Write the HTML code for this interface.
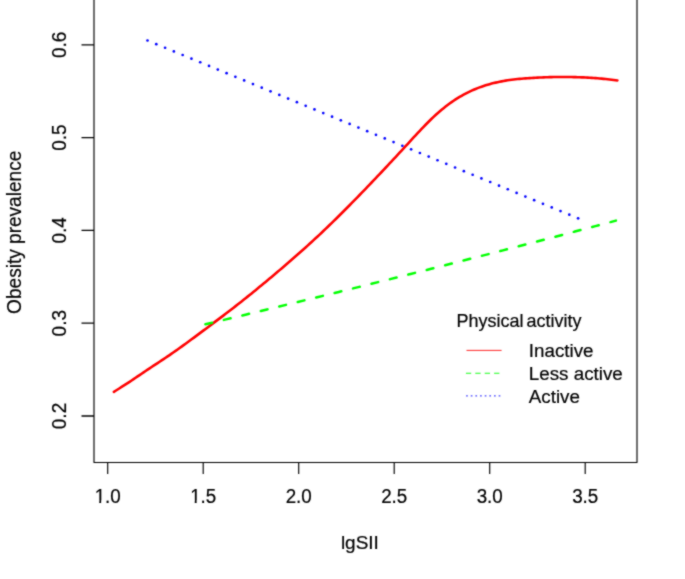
<!DOCTYPE html>
<html><head><meta charset="utf-8"><style>
html,body{margin:0;padding:0;background:#fff;width:685px;height:579px;overflow:hidden}
svg{display:block;will-change:transform;}
text{font-family:"Liberation Sans",sans-serif}
</style></head><body>
<svg width="685" height="579" viewBox="0 0 685 579">
<defs><filter id="s" x="0" y="0" width="685" height="579" filterUnits="userSpaceOnUse" color-interpolation-filters="sRGB"><feConvolveMatrix order="3" kernelMatrix="1 2 1 2 12 2 1 2 1" edgeMode="duplicate"/></filter></defs>
<g filter="url(#s)">
<rect width="685" height="579" fill="#fff"/>
<g fill="none" stroke="#000" stroke-width="1.15">
<path d="M94.0,0 V462.5 H637.0 V0" stroke-linejoin="round"/>
<path d="M107.70,462.5V474M203.20,462.5V474M298.70,462.5V474M394.20,462.5V474M489.70,462.5V474M585.20,462.5V474"/>
<path d="M94.0,416.00H81.5M94.0,323.20H81.5M94.0,230.40H81.5M94.0,137.60H81.5M94.0,44.80H81.5" stroke-width="1.3"/>
</g>
<path d="M113.90,391.80 L115.60,390.75 L117.60,389.50 L119.60,388.24 L121.60,386.97 L123.60,385.69 L125.60,384.41 L127.60,383.11 L129.60,381.80 L131.60,380.48 L133.60,379.14 L135.60,377.79 L137.60,376.43 L139.60,375.06 L141.60,373.70 L143.60,372.35 L145.60,371.00 L147.60,369.67 L149.60,368.34 L151.60,367.01 L153.60,365.69 L155.60,364.38 L157.60,363.06 L159.60,361.74 L161.60,360.41 L163.60,359.08 L165.60,357.75 L167.60,356.40 L169.60,355.05 L171.60,353.68 L173.60,352.30 L175.60,350.91 L177.60,349.49 L179.60,348.06 L181.60,346.62 L183.60,345.17 L185.60,343.71 L187.60,342.25 L189.60,340.78 L191.60,339.31 L193.60,337.84 L195.60,336.36 L197.60,334.88 L199.60,333.39 L201.60,331.91 L203.60,330.41 L205.60,328.92 L207.60,327.42 L209.60,325.92 L211.60,324.42 L213.60,322.91 L215.60,321.40 L217.60,319.89 L219.60,318.38 L221.60,316.86 L223.60,315.34 L225.60,313.81 L227.60,312.28 L229.60,310.75 L231.60,309.21 L233.60,307.66 L235.60,306.11 L237.60,304.55 L239.60,302.98 L241.60,301.40 L243.60,299.82 L245.60,298.22 L247.60,296.62 L249.60,295.01 L251.60,293.39 L253.60,291.77 L255.60,290.14 L257.60,288.50 L259.60,286.86 L261.60,285.21 L263.60,283.55 L265.60,281.89 L267.60,280.23 L269.60,278.55 L271.60,276.88 L273.60,275.19 L275.60,273.51 L277.60,271.81 L279.60,270.12 L281.60,268.42 L283.60,266.71 L285.60,265.00 L287.60,263.28 L289.60,261.56 L291.60,259.82 L293.60,258.08 L295.60,256.33 L297.60,254.57 L299.60,252.81 L301.60,251.03 L303.60,249.25 L305.60,247.45 L307.60,245.65 L309.60,243.83 L311.60,242.00 L313.60,240.16 L315.60,238.31 L317.60,236.45 L319.60,234.58 L321.60,232.70 L323.60,230.81 L325.60,228.90 L327.60,226.99 L329.60,225.06 L331.60,223.12 L333.60,221.17 L335.60,219.22 L337.60,217.25 L339.60,215.27 L341.60,213.27 L343.60,211.27 L345.60,209.26 L347.60,207.25 L349.60,205.22 L351.60,203.19 L353.60,201.15 L355.60,199.11 L357.60,197.06 L359.60,195.00 L361.60,192.93 L363.60,190.86 L365.60,188.79 L367.60,186.70 L369.60,184.62 L371.60,182.52 L373.60,180.43 L375.60,178.32 L377.60,176.21 L379.60,174.10 L381.60,171.99 L383.60,169.87 L385.60,167.74 L387.60,165.61 L389.60,163.47 L391.60,161.33 L393.60,159.18 L395.60,157.02 L397.60,154.87 L399.60,152.70 L401.60,150.54 L403.60,148.37 L405.60,146.19 L407.60,144.02 L409.60,141.84 L411.60,139.66 L413.60,137.49 L415.60,135.32 L417.60,133.17 L419.60,131.03 L421.60,128.91 L423.60,126.82 L425.60,124.76 L427.60,122.73 L429.60,120.74 L431.60,118.80 L433.60,116.91 L435.60,115.06 L437.60,113.26 L439.60,111.51 L441.60,109.81 L443.60,108.16 L445.60,106.56 L447.60,105.02 L449.60,103.53 L451.60,102.10 L453.60,100.72 L455.60,99.40 L457.60,98.14 L459.60,96.92 L461.60,95.76 L463.60,94.64 L465.60,93.58 L467.60,92.56 L469.60,91.59 L471.60,90.66 L473.60,89.78 L475.60,88.94 L477.60,88.14 L479.60,87.38 L481.60,86.66 L483.60,85.98 L485.60,85.33 L487.60,84.72 L489.60,84.15 L491.60,83.61 L493.60,83.10 L495.60,82.62 L497.60,82.17 L499.60,81.75 L501.60,81.36 L503.60,80.99 L505.60,80.65 L507.60,80.33 L509.60,80.04 L511.60,79.76 L513.60,79.51 L515.60,79.27 L517.60,79.06 L519.60,78.86 L521.60,78.68 L523.60,78.51 L525.60,78.35 L527.60,78.21 L529.60,78.08 L531.60,77.95 L533.60,77.84 L535.60,77.73 L537.60,77.63 L539.60,77.54 L541.60,77.45 L543.60,77.37 L545.60,77.30 L547.60,77.23 L549.60,77.17 L551.60,77.12 L553.60,77.07 L555.60,77.04 L557.60,77.01 L559.60,76.99 L561.60,76.98 L563.60,76.97 L565.60,76.98 L567.60,76.99 L569.60,77.01 L571.60,77.04 L573.60,77.08 L575.60,77.13 L577.60,77.19 L579.60,77.26 L581.60,77.33 L583.60,77.42 L585.60,77.52 L587.60,77.62 L589.60,77.74 L591.60,77.87 L593.60,78.01 L595.60,78.16 L597.60,78.31 L599.60,78.48 L601.60,78.66 L603.60,78.85 L605.60,79.05 L607.60,79.25 L609.60,79.47 L611.60,79.69 L613.60,79.93 L615.60,80.18 L617.40,80.42" fill="none" stroke="#f00" stroke-width="2.6" stroke-linecap="round" stroke-linejoin="round"/>
<path d="M205.40,324.26 L215.66,321.82 L225.93,319.37 L236.19,316.91 L246.45,314.45 L256.71,311.98 L266.98,309.50 L277.24,307.01 L287.50,304.52 L297.76,302.02 L308.02,299.51 L318.29,296.99 L328.55,294.46 L338.81,291.93 L349.08,289.39 L359.34,286.84 L369.60,284.28 L379.86,281.72 L390.12,279.15 L400.39,276.57 L410.65,273.98 L420.91,271.39 L431.18,268.79 L441.44,266.18 L451.70,263.56 L461.96,260.94 L472.23,258.30 L482.49,255.66 L492.75,253.01 L503.01,250.36 L513.27,247.70 L523.54,245.02 L533.80,242.35 L544.06,239.66 L554.33,236.97 L564.59,234.26 L574.85,231.56 L585.11,228.84 L595.38,226.11 L605.64,223.38 L615.90,220.64" fill="none" stroke="#0f0" stroke-width="2.5" stroke-linecap="round" stroke-dasharray="6.9 12.09"/>
<g fill="#00f"><circle cx="147.50" cy="40.50" r="1.35"/><circle cx="156.29" cy="44.13" r="1.35"/><circle cx="165.08" cy="47.76" r="1.35"/><circle cx="173.86" cy="51.39" r="1.35"/><circle cx="182.65" cy="55.01" r="1.35"/><circle cx="191.44" cy="58.64" r="1.35"/><circle cx="200.23" cy="62.27" r="1.35"/><circle cx="209.01" cy="65.90" r="1.35"/><circle cx="217.80" cy="69.53" r="1.35"/><circle cx="226.59" cy="73.16" r="1.35"/><circle cx="235.38" cy="76.79" r="1.35"/><circle cx="244.17" cy="80.41" r="1.35"/><circle cx="252.95" cy="84.04" r="1.35"/><circle cx="261.74" cy="87.67" r="1.35"/><circle cx="270.53" cy="91.30" r="1.35"/><circle cx="279.32" cy="94.93" r="1.35"/><circle cx="288.10" cy="98.56" r="1.35"/><circle cx="296.89" cy="102.19" r="1.35"/><circle cx="305.68" cy="105.81" r="1.35"/><circle cx="314.47" cy="109.44" r="1.35"/><circle cx="323.26" cy="113.07" r="1.35"/><circle cx="332.04" cy="116.70" r="1.35"/><circle cx="340.83" cy="120.33" r="1.35"/><circle cx="349.62" cy="123.96" r="1.35"/><circle cx="358.41" cy="127.59" r="1.35"/><circle cx="367.19" cy="131.21" r="1.35"/><circle cx="375.98" cy="134.84" r="1.35"/><circle cx="384.77" cy="138.47" r="1.35"/><circle cx="393.56" cy="142.10" r="1.35"/><circle cx="402.34" cy="145.73" r="1.35"/><circle cx="411.13" cy="149.36" r="1.35"/><circle cx="419.92" cy="152.99" r="1.35"/><circle cx="428.71" cy="156.61" r="1.35"/><circle cx="437.50" cy="160.24" r="1.35"/><circle cx="446.28" cy="163.87" r="1.35"/><circle cx="455.07" cy="167.50" r="1.35"/><circle cx="463.86" cy="171.13" r="1.35"/><circle cx="472.65" cy="174.76" r="1.35"/><circle cx="481.43" cy="178.39" r="1.35"/><circle cx="490.22" cy="182.01" r="1.35"/><circle cx="499.01" cy="185.64" r="1.35"/><circle cx="507.80" cy="189.27" r="1.35"/><circle cx="516.59" cy="192.90" r="1.35"/><circle cx="525.37" cy="196.53" r="1.35"/><circle cx="534.16" cy="200.16" r="1.35"/><circle cx="542.95" cy="203.79" r="1.35"/><circle cx="551.74" cy="207.41" r="1.35"/><circle cx="560.52" cy="211.04" r="1.35"/><circle cx="569.31" cy="214.67" r="1.35"/><circle cx="578.10" cy="218.30" r="1.35"/></g>
<path d="M466.5,350.4H501.6" stroke="#f00" stroke-width="1" opacity="0.85"/>
<path d="M465.9,373.3H501.6" stroke="#0f0" stroke-width="1.1" stroke-dasharray="5.3 4.1" opacity="0.9"/>
<path d="M466.1,395.9H501.6" stroke="#00f" stroke-width="1.1" stroke-dasharray="1.7 2.95" opacity="0.75"/>
<g fill="#000" stroke="#000" stroke-width="0.2" font-family="&quot;Liberation Sans&quot;, sans-serif">
<clipPath id="c0"><rect x="-18.07" y="-30" width="40" height="27.31"/><rect x="-8.46" y="-30" width="1.90" height="40"/><rect x="-2.23" y="-30" width="40" height="40"/></clipPath>
<text transform="translate(107.70,503.35) scale(1,1.05)" font-size="18.8" text-anchor="middle" clip-path="url(#c0)">1.0</text>
<clipPath id="c1"><rect x="-18.07" y="-30" width="40" height="27.31"/><rect x="-8.46" y="-30" width="1.90" height="40"/><rect x="-2.23" y="-30" width="40" height="40"/></clipPath>
<text transform="translate(203.20,503.35) scale(1,1.05)" font-size="18.8" text-anchor="middle" clip-path="url(#c1)">1.5</text>
<text transform="translate(298.70,503.35) scale(1,1.05)" font-size="18.8" text-anchor="middle">2.0</text>
<text transform="translate(394.20,503.35) scale(1,1.05)" font-size="18.8" text-anchor="middle">2.5</text>
<text transform="translate(489.70,503.35) scale(1,1.05)" font-size="18.8" text-anchor="middle">3.0</text>
<text transform="translate(585.20,503.35) scale(1,1.05)" font-size="18.8" text-anchor="middle">3.5</text>
<text transform="translate(66.30,416.00) rotate(-90) scale(1,1.1)" font-size="19.0" text-anchor="middle">0.2</text>
<text transform="translate(66.30,323.20) rotate(-90) scale(1,1.1)" font-size="19.0" text-anchor="middle">0.3</text>
<text transform="translate(66.30,230.40) rotate(-90) scale(1,1.1)" font-size="19.0" text-anchor="middle">0.4</text>
<text transform="translate(66.30,137.60) rotate(-90) scale(1,1.1)" font-size="19.0" text-anchor="middle">0.5</text>
<text transform="translate(66.30,44.80) rotate(-90) scale(1,1.1)" font-size="19.0" text-anchor="middle">0.6</text>
<text transform="translate(359.90,549.00)" font-size="19.0" text-anchor="middle">lgSII</text>
<text transform="translate(20.70,232.30) rotate(-90) scale(1,1.05)" font-size="19.07" text-anchor="middle">Obesity prevalence</text>
<text transform="translate(456.60,327.40) scale(1,1.04)" font-size="18.0" word-spacing="-2.0">Physical activity</text>
<text transform="translate(528.80,357.00)" font-size="18.8">Inactive</text>
<text transform="translate(528.80,379.90)" font-size="18.8">Less active</text>
<text transform="translate(528.80,402.80)" font-size="18.8">Active</text>
</g>
</g>
</svg>
</body></html>
